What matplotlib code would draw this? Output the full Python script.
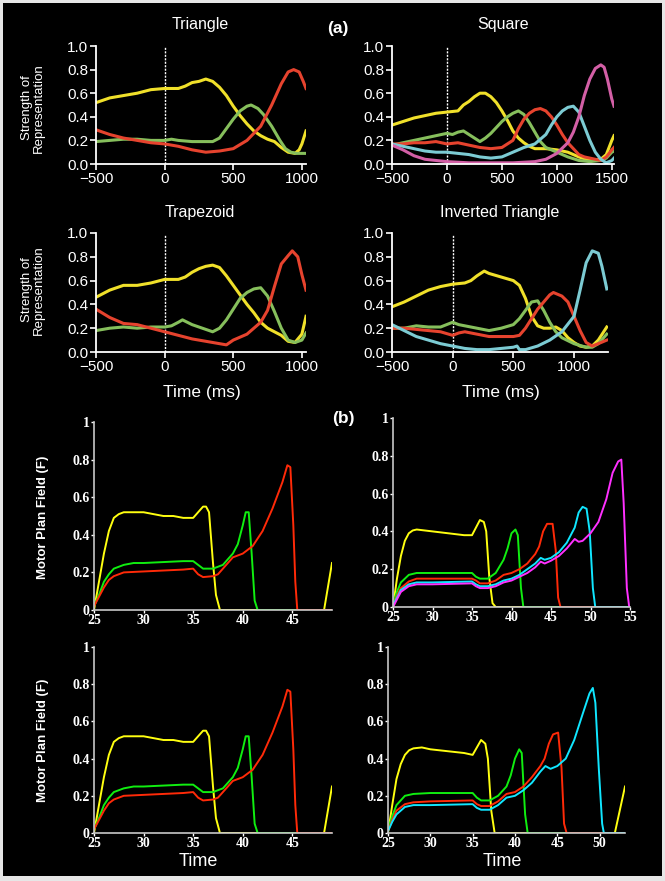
import matplotlib
matplotlib.use("Agg")
import matplotlib.pyplot as plt
from matplotlib.patches import Rectangle

# ---------------- (a) recorded data: time (ms), strength ----------------
tri_t_yellow = [-500, -400, -300, -200, -100, 0, 100, 150, 200, 250, 300, 350, 400, 450, 500, 550, 600,
                650, 700, 750, 800, 850, 900, 950, 980, 1000, 1030]
tri_v_yellow = [0.52, 0.56, 0.58, 0.60, 0.63, 0.64, 0.64, 0.66, 0.69, 0.70, 0.72, 0.70, 0.65, 0.58, 0.49,
                0.41, 0.34, 0.28, 0.24, 0.21, 0.19, 0.14, 0.10, 0.09, 0.12, 0.17, 0.28]
tri_t_green = [-500, -400, -300, -200, -100, 0, 50, 100, 200, 350, 400, 450, 500, 550, 600, 630, 680,
               720, 780, 840, 880, 920, 960, 1030]
tri_v_green = [0.19, 0.20, 0.21, 0.21, 0.20, 0.20, 0.21, 0.20, 0.19, 0.19, 0.22, 0.30, 0.38, 0.45, 0.49,
               0.50, 0.47, 0.42, 0.32, 0.20, 0.13, 0.10, 0.09, 0.09]
tri_t_red = [-500, -400, -300, -200, -100, 0, 100, 200, 300, 400, 500, 600, 700, 780, 850, 900, 940,
             980, 1010, 1030]
tri_v_red = [0.29, 0.25, 0.22, 0.20, 0.18, 0.17, 0.15, 0.12, 0.10, 0.11, 0.13, 0.20, 0.32, 0.50, 0.68,
             0.78, 0.80, 0.78, 0.70, 0.64]

sq_t_yellow = [-500, -400, -300, -200, -100, 0, 100, 150, 200, 250, 300, 350, 400, 450, 500, 550, 600,
               650, 700, 750, 800, 900, 1000, 1100, 1200, 1300, 1400, 1450, 1500, 1520]
sq_v_yellow = [0.33, 0.36, 0.39, 0.41, 0.43, 0.44, 0.45, 0.50, 0.53, 0.57, 0.60, 0.60, 0.57, 0.52, 0.45,
               0.37, 0.28, 0.22, 0.18, 0.15, 0.13, 0.13, 0.12, 0.10, 0.06, 0.03, 0.04, 0.08, 0.20, 0.24]
sq_t_green = [-500, -400, -300, -200, -100, 0, 50, 100, 150, 200, 250, 300, 350, 400, 450, 500, 550, 600,
              650, 700, 750, 800, 850, 900, 1000, 1100, 1200, 1300, 1400, 1450, 1500, 1520]
sq_v_green = [0.16, 0.18, 0.20, 0.22, 0.24, 0.26, 0.25, 0.27, 0.28, 0.25, 0.22, 0.19, 0.22, 0.26, 0.31,
              0.36, 0.40, 0.43, 0.45, 0.42, 0.35, 0.27, 0.19, 0.14, 0.10, 0.06, 0.03, 0.02, 0.03, 0.05,
              0.10, 0.11]
sq_t_red = [-500, -400, -300, -200, -100, 0, 100, 200, 300, 400, 500, 600, 650, 700, 750, 800, 850, 900,
            950, 1000, 1050, 1100, 1150, 1200, 1250, 1300, 1400, 1450, 1500, 1520]
sq_v_red = [0.17, 0.17, 0.18, 0.18, 0.19, 0.17, 0.18, 0.16, 0.14, 0.13, 0.14, 0.20, 0.30, 0.38, 0.43,
            0.46, 0.47, 0.45, 0.40, 0.33, 0.25, 0.18, 0.13, 0.08, 0.06, 0.05, 0.03, 0.06, 0.12, 0.14]
sq_t_cyan = [-500, -400, -300, -200, -100, 0, 100, 200, 300, 400, 500, 600, 700, 800, 900, 950, 1000,
             1050, 1100, 1150, 1200, 1250, 1300, 1350, 1400, 1450, 1500, 1520]
sq_v_cyan = [0.17, 0.15, 0.13, 0.11, 0.10, 0.10, 0.09, 0.08, 0.06, 0.05, 0.06, 0.10, 0.14, 0.17, 0.25,
             0.33, 0.40, 0.45, 0.48, 0.49, 0.44, 0.32, 0.20, 0.10, 0.04, 0.01, 0.03, 0.05]
sq_t_magenta = [-500, -400, -300, -200, -100, 0, 200, 400, 600, 800, 900, 1000, 1100, 1150, 1200, 1250,
                1300, 1350, 1400, 1430, 1460, 1500, 1520]
sq_v_magenta = [0.16, 0.12, 0.07, 0.04, 0.03, 0.02, 0.01, 0.01, 0.01, 0.02, 0.04, 0.09, 0.18, 0.27, 0.40,
                0.58, 0.72, 0.81, 0.84, 0.82, 0.72, 0.55, 0.49]

trap_t_yellow = [-500, -400, -300, -200, -150, -100, 0, 100, 150, 200, 250, 300, 350, 400, 450, 500, 550,
                 600, 650, 700, 750, 800, 850, 900, 950, 1000, 1030]
trap_v_yellow = [0.46, 0.52, 0.56, 0.56, 0.57, 0.58, 0.61, 0.61, 0.63, 0.67, 0.70, 0.72, 0.73, 0.71, 0.64,
                 0.56, 0.48, 0.40, 0.33, 0.25, 0.20, 0.17, 0.14, 0.09, 0.08, 0.15, 0.30]
trap_t_green = [-500, -400, -300, -200, -100, 0, 50, 100, 130, 200, 300, 350, 400, 450, 500, 550, 600, 650,
                700, 750, 800, 850, 900, 950, 1000, 1030]
trap_v_green = [0.18, 0.20, 0.21, 0.20, 0.21, 0.21, 0.22, 0.25, 0.27, 0.23, 0.19, 0.17, 0.20, 0.27, 0.36,
                0.45, 0.50, 0.53, 0.54, 0.47, 0.34, 0.20, 0.10, 0.08, 0.10, 0.16]
trap_t_red = [-500, -400, -300, -200, -100, 0, 100, 200, 300, 400, 450, 500, 600, 700, 750, 800, 850, 900,
              930, 970, 1000, 1030]
trap_v_red = [0.36, 0.29, 0.24, 0.23, 0.20, 0.17, 0.14, 0.11, 0.09, 0.07, 0.06, 0.10, 0.15, 0.25, 0.35,
              0.55, 0.74, 0.81, 0.85, 0.80, 0.65, 0.52]

inv_t_yellow = [-500, -400, -300, -200, -100, 0, 100, 150, 200, 260, 300, 400, 500, 550, 600, 650, 700,
                750, 800, 850, 900, 950, 1000, 1050, 1100, 1150, 1200, 1270]
inv_v_yellow = [0.38, 0.42, 0.47, 0.52, 0.55, 0.57, 0.58, 0.60, 0.64, 0.68, 0.66, 0.63, 0.60, 0.56, 0.45,
                0.30, 0.22, 0.20, 0.20, 0.21, 0.18, 0.12, 0.08, 0.05, 0.04, 0.05, 0.10, 0.21]
inv_t_green = [-500, -400, -300, -200, -100, 0, 50, 100, 200, 300, 400, 500, 550, 600, 650, 700, 750, 800,
               850, 900, 1000, 1100, 1150, 1200, 1270]
inv_v_green = [0.20, 0.20, 0.22, 0.21, 0.21, 0.25, 0.23, 0.22, 0.20, 0.18, 0.20, 0.23, 0.28, 0.35, 0.42,
               0.43, 0.35, 0.25, 0.17, 0.12, 0.07, 0.04, 0.04, 0.07, 0.15]
inv_t_red = [-500, -400, -300, -200, -100, 0, 50, 100, 200, 300, 400, 500, 550, 600, 650, 700, 750, 800,
             830, 900, 950, 1000, 1050, 1100, 1150, 1200, 1270]
inv_v_red = [0.20, 0.20, 0.19, 0.18, 0.17, 0.14, 0.16, 0.17, 0.15, 0.13, 0.13, 0.13, 0.14, 0.20, 0.28,
             0.36, 0.42, 0.48, 0.50, 0.47, 0.42, 0.30, 0.18, 0.08, 0.05, 0.07, 0.10]
inv_t_cyan = [-500, -400, -300, -200, -100, 0, 100, 200, 300, 400, 500, 530, 550, 600, 700, 800, 900,
              1000, 1050, 1100, 1150, 1200, 1230, 1270]
inv_v_cyan = [0.23, 0.18, 0.13, 0.10, 0.07, 0.05, 0.03, 0.02, 0.02, 0.03, 0.04, 0.05, 0.02, 0.02, 0.05,
              0.10, 0.17, 0.30, 0.52, 0.75, 0.85, 0.83, 0.72, 0.53]

# ---------------- (b) model data: time, motor plan field ----------------
m3_t_yellow = [25, 25.5, 26, 26.5, 27, 27.5, 28, 29, 30, 31, 32, 33, 34, 35, 35.5, 36, 36.3, 36.6, 37,
               37.3, 37.7, 48.2, 49]
m3_v_yellow = [0, 0.15, 0.30, 0.42, 0.49, 0.51, 0.52, 0.52, 0.52, 0.51, 0.50, 0.50, 0.49, 0.49, 0.52,
               0.55, 0.55, 0.52, 0.25, 0.08, 0, 0, 0.25]
m3_t_green = [25, 25.5, 26, 26.5, 27, 28, 29, 30, 32, 34, 35, 35.5, 36, 37, 38, 39, 39.5, 40, 40.3, 40.6,
              40.9, 41.2, 41.5, 49]
m3_v_green = [0.02, 0.08, 0.15, 0.19, 0.22, 0.24, 0.25, 0.25, 0.255, 0.26, 0.26, 0.24, 0.22, 0.22, 0.24,
              0.30, 0.35, 0.45, 0.52, 0.52, 0.30, 0.05, 0, 0]
m3_t_red = [25, 25.5, 26, 26.5, 27, 28, 30, 32, 34, 35, 35.5, 36, 37, 37.5, 38, 39, 40, 41, 42, 43, 44,
            44.5, 44.8, 45.1, 45.3, 45.5, 49]
m3_v_red = [0.02, 0.07, 0.12, 0.16, 0.18, 0.20, 0.205, 0.21, 0.215, 0.22, 0.19, 0.175, 0.18, 0.19, 0.22,
            0.28, 0.30, 0.34, 0.42, 0.54, 0.68, 0.77, 0.76, 0.45, 0.15, 0, 0]

m5_t_yellow = [25, 25.5, 26, 26.5, 27, 27.5, 28, 30, 32, 34, 35, 35.5, 36, 36.5, 36.8, 37.2, 37.6, 38, 55]
m5_v_yellow = [0, 0.15, 0.27, 0.35, 0.39, 0.405, 0.41, 0.40, 0.39, 0.38, 0.38, 0.42, 0.46, 0.45, 0.40,
               0.15, 0.02, 0, 0]
m5_t_green = [25, 25.5, 26, 27, 28, 30, 35, 35.5, 36, 37, 38, 39, 39.5, 40, 40.5, 40.8, 41.2, 41.5, 55]
m5_v_green = [0.02, 0.08, 0.13, 0.17, 0.18, 0.18, 0.18, 0.16, 0.15, 0.15, 0.18, 0.25, 0.31, 0.39, 0.41,
              0.38, 0.10, 0, 0]
m5_t_red = [25, 25.5, 26, 27, 28, 30, 35, 35.5, 36, 37, 38, 39, 40, 41, 42, 43, 43.5, 44, 44.5, 45.2,
            45.6, 45.9, 46.2, 55]
m5_v_red = [0.01, 0.06, 0.10, 0.135, 0.15, 0.15, 0.15, 0.14, 0.125, 0.125, 0.14, 0.17, 0.18, 0.20, 0.23,
            0.28, 0.32, 0.40, 0.44, 0.44, 0.30, 0.05, 0, 0]
m5_t_cyan = [25, 25.5, 26, 27, 28, 30, 35, 35.5, 36, 37, 38, 39, 40, 41, 42, 43, 43.7, 44.2, 45, 46, 47,
             48, 48.5, 49, 49.5, 49.9, 50.3, 50.6, 55]
m5_v_cyan = [0.01, 0.05, 0.09, 0.12, 0.13, 0.13, 0.135, 0.12, 0.11, 0.11, 0.12, 0.14, 0.15, 0.17, 0.20,
             0.23, 0.26, 0.25, 0.26, 0.29, 0.34, 0.42, 0.50, 0.53, 0.52, 0.40, 0.10, 0, 0]
m5_t_magenta = [25, 25.5, 26, 27, 28, 30, 35, 35.5, 36, 37, 38, 39, 40, 41, 42, 43, 43.7, 44.2, 45, 46,
                47, 48, 48.5, 49, 50, 51, 52, 52.8, 53.5, 53.9, 54.2, 54.6, 54.9, 55]
m5_v_magenta = [0, 0.04, 0.08, 0.11, 0.12, 0.12, 0.125, 0.11, 0.10, 0.10, 0.11, 0.13, 0.14, 0.16, 0.18,
                0.21, 0.24, 0.23, 0.245, 0.27, 0.31, 0.36, 0.345, 0.35, 0.39, 0.45, 0.57, 0.71, 0.77,
                0.78, 0.55, 0.10, 0, 0]

m4_t_yellow = [25, 25.5, 26, 26.5, 27, 27.5, 28, 29, 30, 32, 34, 35, 35.5, 36, 36.5, 36.8, 37.2, 37.6,
               51.8, 53]
m4_v_yellow = [0, 0.15, 0.29, 0.37, 0.42, 0.445, 0.455, 0.46, 0.45, 0.44, 0.43, 0.42, 0.46, 0.50, 0.48,
               0.40, 0.12, 0, 0, 0.25]
m4_t_green = [25, 25.5, 26, 27, 28, 30, 35, 35.5, 36, 37, 38, 39, 39.5, 40, 40.5, 40.8, 41.2, 41.5, 53]
m4_v_green = [0.02, 0.09, 0.15, 0.20, 0.21, 0.215, 0.215, 0.19, 0.175, 0.175, 0.20, 0.25, 0.31, 0.40,
              0.45, 0.43, 0.10, 0, 0]
m4_t_red = [25, 25.5, 26, 27, 28, 30, 35, 35.5, 36, 37, 38, 39, 40, 41, 42, 43, 43.5, 44, 44.5, 45.1,
            45.5, 45.8, 46.1, 53]
m4_v_red = [0.01, 0.07, 0.12, 0.155, 0.165, 0.17, 0.175, 0.155, 0.145, 0.145, 0.17, 0.21, 0.22, 0.25,
            0.30, 0.36, 0.40, 0.48, 0.53, 0.54, 0.35, 0.05, 0, 0]
m4_t_cyan = [25, 25.5, 26, 27, 28, 30, 35, 35.5, 36, 37, 38, 39, 40, 41, 42, 43, 43.6, 44.2, 45, 46, 47,
             48, 48.8, 49.2, 49.5, 49.9, 50.3, 50.5, 53]
m4_v_cyan = [0.01, 0.06, 0.10, 0.14, 0.15, 0.15, 0.155, 0.135, 0.125, 0.125, 0.15, 0.19, 0.20, 0.23,
             0.27, 0.33, 0.36, 0.345, 0.36, 0.40, 0.50, 0.64, 0.75, 0.78, 0.70, 0.35, 0.05, 0, 0]

a_ticks_short = [-500, 0, 500, 1000]
a_ticks_long = [-500, 0, 500, 1000, 1500]
a_yticks = [0.0, 0.2, 0.4, 0.6, 0.8, 1.0]
b_yticks = [0, 0.2, 0.4, 0.6, 0.8, 1]
b_ytick_labels = ['0', '0.2', '0.4', '0.6', '0.8', '1']

W, H = 665, 881
SANS = ['Liberation Sans', 'DejaVu Sans']
SERIF = ['Liberation Serif', 'DejaVu Serif']

# colours
A_COL = {'yellow': '#f0e02a', 'green': '#86bf5c', 'red': '#e6432e', 'cyan': '#7ccbd3', 'magenta': '#d35fa6'}
B_COL = {'yellow': '#ffff10', 'green': '#10ee10', 'red': '#ff2a08', 'cyan': '#10e6ff', 'magenta': '#ff30ff'}


def box(x0, y0, x1, y1):
    # pixel box (top-left origin) -> figure fraction rect
    return [x0 / W, 1 - y1 / H, (x1 - x0) / W, (y1 - y0) / H]


def ftext(fig, x, y, s, **kw):
    fig.text(x / W, 1 - y / H, s, ha='center', va='center', color='white', **kw)


def style_a(ax, xmax, xticks):
    ax.set_facecolor('none')
    ax.set_xlim(-500, xmax)
    ax.set_ylim(0, 1.0)
    for s in ['top', 'right']:
        ax.spines[s].set_visible(False)
    for s in ['left', 'bottom']:
        ax.spines[s].set_color('white')
        ax.spines[s].set_linewidth(1.3)
    ax.set_xticks(xticks)
    ax.set_yticks(a_yticks)
    ax.set_yticklabels([f'{v:.1f}' for v in a_yticks])
    ax.tick_params(colors='white', direction='out', length=4, width=1.2, labelsize=11, pad=1.5)
    for lab in ax.get_xticklabels() + ax.get_yticklabels():
        lab.set_family(SANS)
    ax.plot([0, 0], [0, 0.99], color='white', ls=(0, (1.5, 1)), lw=1.0)


def style_b(ax, xmax):
    ax.set_facecolor('none')
    ax.set_xlim(25, xmax)
    ax.set_ylim(0, 1)
    for s in ['top', 'right']:
        ax.spines[s].set_visible(False)
    for s in ['left', 'bottom']:
        ax.spines[s].set_color('#c8c8c8')
        ax.spines[s].set_linewidth(1.2)
    ax.set_xticks(list(range(25, xmax + 1, 5)))
    ax.set_yticks(b_yticks)
    ax.set_yticklabels(b_ytick_labels)
    ax.tick_params(colors='white', direction='out', length=2.5, width=1.0, labelsize=10, pad=0.5)
    for lab in ax.get_xticklabels() + ax.get_yticklabels():
        lab.set_family(SERIF)
        lab.set_weight('bold')


fig = plt.figure(figsize=(W / 100, H / 100), dpi=100, facecolor='#e6e6e6')
fig.patches.append(Rectangle((3 / W, 1 - 876 / H), 659 / W, 873 / H, transform=fig.transFigure,
                             facecolor='black', edgecolor='none', zorder=-5))

# ---- panel (a) ----
ax = fig.add_axes(box(96, 46, 306, 164))
style_a(ax, 1030, a_ticks_short)
ax.plot(tri_t_yellow, tri_v_yellow, color=A_COL['yellow'], lw=2.2)
ax.plot(tri_t_green, tri_v_green, color=A_COL['green'], lw=2.2)
ax.plot(tri_t_red, tri_v_red, color=A_COL['red'], lw=2.2)

ax = fig.add_axes(box(392, 46, 614, 164))
style_a(ax, 1520, a_ticks_long)
ax.plot(sq_t_yellow, sq_v_yellow, color=A_COL['yellow'], lw=2.2)
ax.plot(sq_t_green, sq_v_green, color=A_COL['green'], lw=2.2)
ax.plot(sq_t_red, sq_v_red, color=A_COL['red'], lw=2.2)
ax.plot(sq_t_cyan, sq_v_cyan, color=A_COL['cyan'], lw=2.2)
ax.plot(sq_t_magenta, sq_v_magenta, color=A_COL['magenta'], lw=2.2)

ax = fig.add_axes(box(96, 233, 306, 352))
style_a(ax, 1030, a_ticks_short)
ax.plot(trap_t_yellow, trap_v_yellow, color=A_COL['yellow'], lw=2.2)
ax.plot(trap_t_green, trap_v_green, color=A_COL['green'], lw=2.2)
ax.plot(trap_t_red, trap_v_red, color=A_COL['red'], lw=2.2)

ax = fig.add_axes(box(392, 233, 608, 352))
style_a(ax, 1280, a_ticks_short)
ax.plot(inv_t_yellow, inv_v_yellow, color=A_COL['yellow'], lw=2.2)
ax.plot(inv_t_green, inv_v_green, color=A_COL['green'], lw=2.2)
ax.plot(inv_t_red, inv_v_red, color=A_COL['red'], lw=2.2)
ax.plot(inv_t_cyan, inv_v_cyan, color=A_COL['cyan'], lw=2.2)

ftext(fig, 200, 25, 'Triangle', fontsize=11.5, family=SANS)
ftext(fig, 503, 24, 'Square', fontsize=11.5, family=SANS)
ftext(fig, 200, 212, 'Trapezoid', fontsize=11.5, family=SANS)
ftext(fig, 500, 212, 'Inverted Triangle', fontsize=11.5, family=SANS)
ftext(fig, 338, 28, '(a)', fontsize=12.5, family=SANS, fontweight='bold')
ftext(fig, 33, 108, 'Strength of\nRepresentation', fontsize=9.5, family=SANS, rotation=90, linespacing=1.0)
ftext(fig, 33, 290, 'Strength of\nRepresentation', fontsize=9.5, family=SANS, rotation=90, linespacing=1.0)
ftext(fig, 202, 392, 'Time (ms)', fontsize=12.5, family=SANS)
ftext(fig, 501, 392, 'Time (ms)', fontsize=12.5, family=SANS)

# ---- panel (b) ----
for top, bot in [(422, 610), (647, 833)]:
    ax = fig.add_axes(box(94, top, 332, bot))
    style_b(ax, 49)
    ax.plot(m3_t_yellow, m3_v_yellow, color=B_COL['yellow'], lw=1.4)
    ax.plot(m3_t_green, m3_v_green, color=B_COL['green'], lw=1.4)
    ax.plot(m3_t_red, m3_v_red, color=B_COL['red'], lw=1.4)

ax = fig.add_axes(box(393, 418, 630, 607))
style_b(ax, 55)
ax.plot(m5_t_yellow, m5_v_yellow, color=B_COL['yellow'], lw=1.4)
ax.plot(m5_t_green, m5_v_green, color=B_COL['green'], lw=1.4)
ax.plot(m5_t_red, m5_v_red, color=B_COL['red'], lw=1.4)
ax.plot(m5_t_cyan, m5_v_cyan, color=B_COL['cyan'], lw=1.4)
ax.plot(m5_t_magenta, m5_v_magenta, color=B_COL['magenta'], lw=1.4)

ax = fig.add_axes(box(388, 647, 625, 833))
style_b(ax, 53)
ax.plot(m4_t_yellow, m4_v_yellow, color=B_COL['yellow'], lw=1.4)
ax.plot(m4_t_green, m4_v_green, color=B_COL['green'], lw=1.4)
ax.plot(m4_t_red, m4_v_red, color=B_COL['red'], lw=1.4)
ax.plot(m4_t_cyan, m4_v_cyan, color=B_COL['cyan'], lw=1.4)

ftext(fig, 343, 418, '(b)', fontsize=12.5, family=SANS, fontweight='bold')
ftext(fig, 43, 517, 'Motor Plan Field (F)', fontsize=9.5, family=SANS, fontweight='bold', rotation=90)
ftext(fig, 43, 740, 'Motor Plan Field (F)', fontsize=9.5, family=SANS, fontweight='bold', rotation=90)
ftext(fig, 198, 862, 'Time', fontsize=13, family=SANS)
ftext(fig, 502, 862, 'Time', fontsize=13, family=SANS)

fig.savefig('out.png', dpi=100, facecolor=fig.get_facecolor())
